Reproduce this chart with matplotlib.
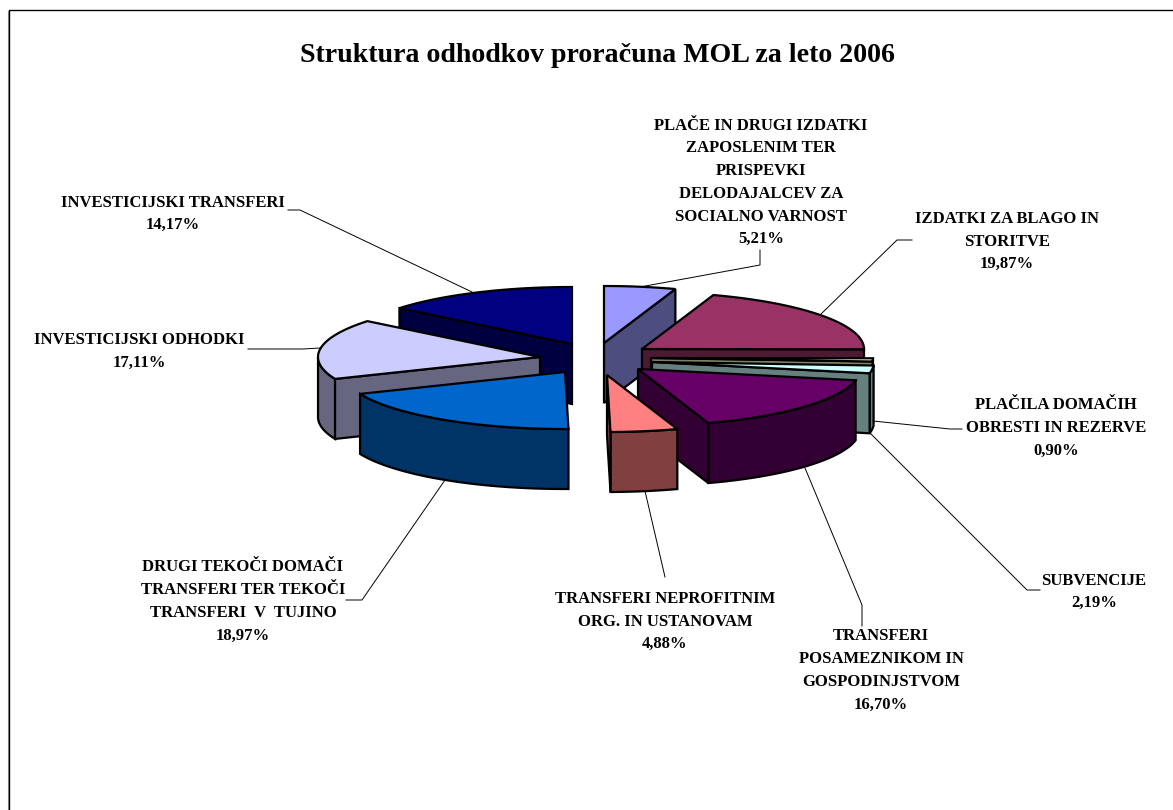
import numpy as np
import matplotlib
matplotlib.use('Agg')
import matplotlib.pyplot as plt

plt.rcParams['font.family'] = ['Liberation Serif', 'DejaVu Serif']

title = 'Struktura odhodkov proračuna MOL za leto 2006'
labels = [
    'PLAČE IN DRUGI IZDATKI\nZAPOSLENIM TER\nPRISPEVKI\nDELODAJALCEV ZA\nSOCIALNO VARNOST',
    'IZDATKI ZA BLAGO IN\nSTORITVE',
    'PLAČILA DOMAČIH\nOBRESTI IN REZERVE',
    'SUBVENCIJE',
    'TRANSFERI\nPOSAMEZNIKOM IN\nGOSPODINJSTVOM',
    'TRANSFERI NEPROFITNIM\nORG. IN USTANOVAM',
    'DRUGI TEKOČI DOMAČI\nTRANSFERI TER TEKOČI\nTRANSFERI  V  TUJINO',
    'INVESTICIJSKI ODHODKI',
    'INVESTICIJSKI TRANSFERI',
]
values = [5.21, 19.87, 0.90, 2.19, 16.70, 4.88, 18.97, 17.11, 14.17]

top_colors = ['#9999FF', '#993366', '#FFFFCC', '#CCFFFF', '#660066',
              '#FF8080', '#0066CC', '#CCCCFF', '#000080']
side_colors = ['#4D4D80', '#4D1A33', '#808066', '#668080', '#330033',
               '#804040', '#003366', '#666680', '#000040']

# geometrija torte (v pikslih slike)
cx, cy = 588, 358
rx, ry = 222, 57
depth = 60
explode_x = [16, 54, 63, 64, 50, 19, -23, -48, -16]
explode_y = [-15, -9, 0, 4, 11, 17, 14, -1, -14]
draw_order = [0, 1, 2, 3, 4, 5, 8, 7, 6]

# sredina napisa (x, y) in crta do rezine
label_pos = [(761, 182.5), (1007, 241.5), (1056, 428), (1094, 592), (881, 670.5),
             (665, 621.5), (243, 601.5), (139, 351.5), (173, 214)]
leaders = [
    [(640, 287), (760, 265), (760, 250)],
    [(820, 315), (897, 240), (912, 240)],
    [(873, 421), (950, 429), (962, 429)],
    [(870, 433), (1027, 590), (1040, 590)],
    [(805, 468), (862, 605), (862, 626)],
    [(645, 491), (665, 577)],
    [(445, 480), (362, 600), (346, 600)],
    [(320, 348), (303, 349), (248, 349)],
    [(472, 292), (300, 210), (288, 210)],
]


def draw_slice(ax, a0, a1, ox, oy, top, side):
    # a0, a1 v stopinjah, v smeri urinega kazalca od 12. ure
    t = np.radians(np.linspace(a0, a1, 80))
    x = ox + rx * np.sin(t)
    y = oy - ry * np.cos(t)
    style = dict(edgecolor='black', linewidth=1.6, joinstyle='miter')

    # zunanji plasc, samo sprednji del
    front = (np.degrees(t) >= 90) & (np.degrees(t) <= 270)
    if front.sum() > 1:
        fx, fy = x[front], y[front]
        ax.fill(np.r_[fx, fx[::-1]], np.r_[fy, fy[::-1] + depth],
                facecolor=side, **style)

    # ravni stranici, ce sta obrnjeni proti gledalcu
    if np.sin(np.radians(a0)) < -1e-6:
        ax.fill([ox, x[0], x[0], ox], [oy, y[0], y[0] + depth, oy + depth],
                facecolor=side, **style)
    if np.sin(np.radians(a1)) > 1e-6:
        ax.fill([ox, x[-1], x[-1], ox], [oy, y[-1], y[-1] + depth, oy + depth],
                facecolor=side, **style)

    ax.fill(np.r_[ox, x], np.r_[oy, y], facecolor=top, **style)


fig = plt.figure(figsize=(11.73, 8.10), dpi=100)
ax = fig.add_axes([0, 0, 1, 1])
ax.set_xlim(0, 1173)
ax.set_ylim(810, 0)
ax.axis('off')

# okvir grafikona
ax.plot([8, 8], [11, 810], color='#999999', lw=0.8)
ax.plot([9, 9, 1173], [810, 10, 10], color='black', lw=1.0)

ax.text(598, 56, title, ha='center', va='center', fontsize=20.1, fontweight='bold')

for line in leaders:
    xs, ys = zip(*line)
    ax.plot(xs, ys, color='black', lw=0.7)

edges = np.r_[0, np.cumsum(values)] / np.sum(values) * 360
for i in draw_order:
    draw_slice(ax, edges[i], edges[i + 1], cx + explode_x[i], cy + explode_y[i],
               top_colors[i], side_colors[i])

for label, value, (lx, ly) in zip(labels, values, label_pos):
    text = label + '\n' + f'{value:.2f}'.replace('.', ',') + '%'
    ax.text(lx, ly, text, ha='center', va='center', fontsize=12,
            fontweight='bold', linespacing=1.56)

fig.savefig('out.png', dpi=100, facecolor='white')
plt.close(fig)
